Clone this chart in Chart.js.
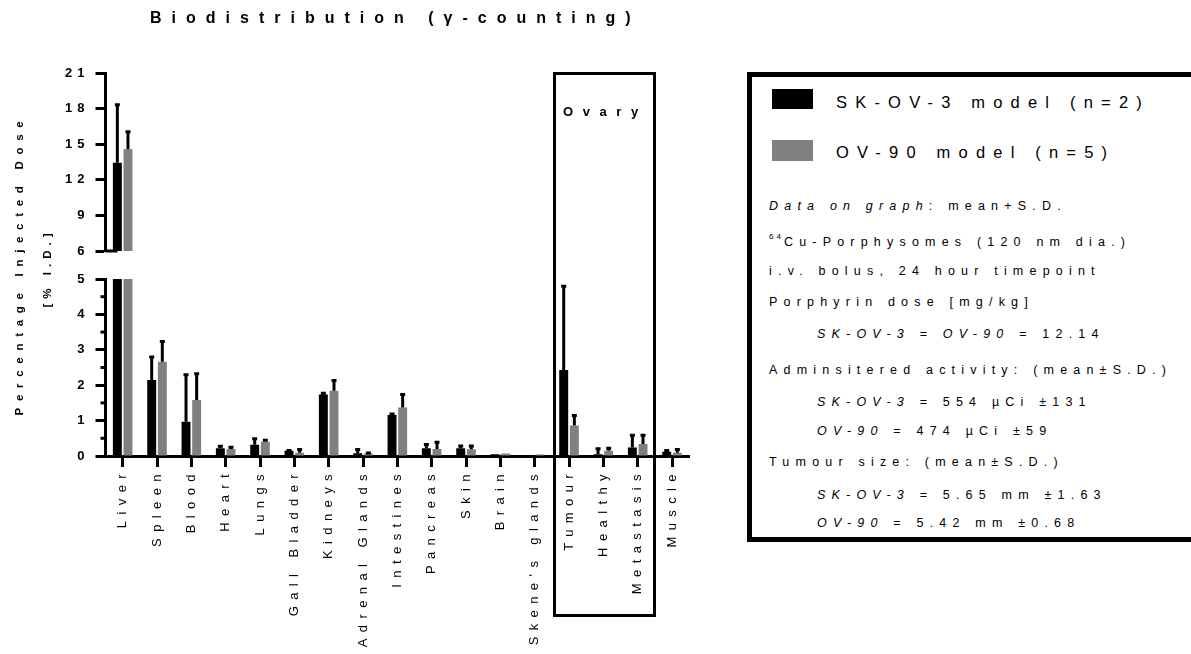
<!DOCTYPE html>
<html>
<head>
<meta charset="utf-8">
<script src="https://cdn.jsdelivr.net/npm/chart.js@4.4.1/dist/chart.umd.min.js"></script>
<style>
  html, body { margin: 0; padding: 0; background: #fff; }
  #page { position: relative; width: 1191px; height: 654px; overflow: hidden; background: #fff;
          font-family: "Liberation Sans", Arial, sans-serif; color: #000; }
  canvas { position: absolute; left: 0; top: 0; }
  .t { position: absolute; white-space: nowrap; }
  #title { left: 150px; top: 8px; font-weight: bold; font-size: 16px; letter-spacing: 10px; line-height: 20px; }
  .ytitle { position: absolute; white-space: nowrap; font-weight: bold; font-size: 11.5px;
            transform: translate(-50%, -50%) rotate(-90deg); line-height: 14px; }
  #ovary { position: absolute; left: 553px; top: 72px; width: 103px; height: 545px;
           border: 3px solid #000; box-sizing: border-box; }
  #ovary span { position: absolute; left: 7px; top: 29px; font-weight: bold; font-size: 13px;
                letter-spacing: 9.6px; line-height: 16px; }
  #legend { position: absolute; left: 747px; top: 72px; width: 449px; height: 470px;
            border: 5px solid #000; box-sizing: border-box; background: #fff; }
  .sw { position: absolute; width: 41px; height: 20px; }
  .lg { position: absolute; white-space: nowrap; font-size: 16.5px; letter-spacing: 8.2px; line-height: 20px; }
  .info { position: absolute; white-space: nowrap; font-size: 12.5px; letter-spacing: 6.2px; line-height: 16px; }
  sup { font-size: 8px; letter-spacing: 3px; vertical-align: 7px; line-height: 0; }
</style>
</head>
<body>
<div id="page">
  <canvas id="upper" width="1191" height="654"></canvas>
  <canvas id="lower" width="1191" height="654"></canvas>

  <div id="title" class="t">Biodistribution (γ-counting)</div>
  <div class="ytitle" style="left:19px; top:265px; letter-spacing:6.7px;">Percentage Injected Dose</div>
  <div class="ytitle" style="left:47px; top:268px; letter-spacing:5px;">[% I.D.]</div>

  <div id="ovary"><span>Ovary</span></div>

  <div id="legend">
    <div class="sw" style="left:20px; top:12px; background:#000;"></div>
    <div class="lg" style="left:84px; top:15px;">SK-OV-3 model (n=2)</div>
    <div class="sw" style="left:20px; top:63px; height:21px; background:#808080;"></div>
    <div class="lg" style="left:84px; top:65px;">OV-90 model (n=5)</div>

    <div class="info" style="left:17px; top:121px;"><i>Data on graph</i>: mean+S.D.</div>
    <div class="info" style="left:17px; top:157px;"><sup>64</sup>Cu-Porphysomes (120 nm dia.)</div>
    <div class="info" style="left:17px; top:186px;">i.v. bolus, 24 hour timepoint</div>
    <div class="info" style="left:17px; top:217px;">Porphyrin dose [mg/kg]</div>
    <div class="info" style="left:65px; top:249px;"><i>SK-OV-3</i> = <i>OV-90</i> = 12.14</div>
    <div class="info" style="left:17px; top:285px;">Adminsitered activity: (mean±S.D.)</div>
    <div class="info" style="left:65px; top:317px;"><i>SK-OV-3</i> = 554 µCi ±131</div>
    <div class="info" style="left:65px; top:346px;"><i>OV-90</i> = 474 µCi ±59</div>
    <div class="info" style="left:17px; top:377px;">Tumour size: (mean±S.D.)</div>
    <div class="info" style="left:65px; top:410px;"><i>SK-OV-3</i> = 5.65 mm ±1.63</div>
    <div class="info" style="left:65px; top:438px;"><i>OV-90</i> = 5.42 mm ±0.68</div>
  </div>
</div>

<script>
// Tissues sampled (x categories)
const tissues = ['Liver', 'Spleen', 'Blood', 'Heart', 'Lungs', 'Gall Bladder', 'Kidneys',
  'Adrenal Glands', 'Intestines', 'Pancreas', 'Skin', 'Brain', "Skene's glands",
  'Tumour', 'Healthy', 'Metastasis', 'Muscle'];

// SK-OV-3 model (n=2): mean %I.D. and S.D.
const skov3Mean = [13.44, 2.15, 0.97, 0.22, 0.32, 0.15, 1.74, 0.08, 1.16, 0.22, 0.22, 0.05, 0.00, 2.43, 0.05, 0.24, 0.12];
const skov3SD   = [4.92, 0.66, 1.34, 0.07, 0.18, 0.02, 0.05, 0.12, 0.04, 0.12, 0.08, 0.00, 0.00, 2.38, 0.17, 0.36, 0.05];

// OV-90 model (n=5): mean %I.D. and S.D.
const ov90Mean = [14.57, 2.66, 1.58, 0.20, 0.40, 0.09, 1.84, 0.07, 1.37, 0.20, 0.19, 0.07, 0.04, 0.86, 0.15, 0.34, 0.09];
const ov90SD   = [1.53, 0.59, 0.76, 0.06, 0.06, 0.11, 0.31, 0.03, 0.38, 0.20, 0.11, 0.00, 0.00, 0.30, 0.08, 0.26, 0.11];

// Broken y axis: upper segment 6–21 (step 3), lower segment 0–5 (step 1)
const upperTicks = [6, 9, 12, 15, 18, 21];
const lowerTicks = [0, 1, 2, 3, 4, 5];
const lowerMinorTicks = [0.5, 1.5, 2.5, 3.5, 4.5];

const FONT = '"Liberation Sans", Arial, sans-serif';
const PAGE_W = 1191, PAGE_H = 654;
const AREA_LEFT = 105.5, AREA_RIGHT = 689.2;

function makeDatasets() {
  return [
    { label: 'SK-OV-3 model (n=2)', data: skov3Mean, sd: skov3SD, backgroundColor: '#000000',
      borderWidth: 0, clip: 0, categoryPercentage: 0.62, barPercentage: 0.84 },
    { label: 'OV-90 model (n=5)', data: ov90Mean, sd: ov90SD, backgroundColor: '#808080',
      borderWidth: 0, clip: 0, categoryPercentage: 0.62, barPercentage: 0.84 }
  ];
}

// Mean + S.D. whiskers above each bar
const errorBars = {
  id: 'errorBars',
  afterDatasetsDraw(chart) {
    const { ctx, chartArea: a, scales: { y } } = chart;
    ctx.save();
    ctx.beginPath();
    ctx.rect(a.left, a.top - 2, a.right - a.left, a.bottom - a.top + 2);
    ctx.clip();
    ctx.strokeStyle = '#000';
    ctx.lineWidth = 3;
    chart.data.datasets.forEach((ds, i) => {
      const meta = chart.getDatasetMeta(i);
      meta.data.forEach((bar, j) => {
        const sd = ds.sd[j];
        if (!sd) return;
        const y0 = y.getPixelForValue(ds.data[j]);
        const y1 = y.getPixelForValue(ds.data[j] + sd);
        ctx.beginPath();
        ctx.moveTo(bar.x, y0);
        ctx.lineTo(bar.x, y1);
        ctx.moveTo(bar.x - 2.5, y1 + 0.5);
        ctx.lineTo(bar.x + 2.5, y1 + 0.5);
        ctx.stroke();
      });
    });
    ctx.restore();
  }
};

// Letter-spaced tick labels
const spacedLabels = {
  id: 'spacedLabels',
  beforeDraw(chart, args, opts) {
    Object.keys(opts.spacing || {}).forEach(id => {
      const scale = chart.scales[id];
      if (!scale || scale._spacedWrapped) return;
      const orig = scale.drawLabels;
      const px = opts.spacing[id];
      scale.drawLabels = function (area) {
        this.ctx.letterSpacing = px;
        orig.call(this, area);
        this.ctx.letterSpacing = '0px';
      };
      scale._spacedWrapped = true;
    });
  }
};

// Axis decorations: minor ticks (lower) and stub at the break (upper)
const axisExtras = {
  id: 'axisExtras',
  afterDraw(chart, args, opts) {
    const { ctx, chartArea: a, scales: { y } } = chart;
    ctx.save();
    ctx.strokeStyle = '#000';
    ctx.lineWidth = 3;
    (opts.minor || []).forEach(v => {
      const py = y.getPixelForValue(v);
      ctx.beginPath();
      ctx.moveTo(a.left - 5, py);
      ctx.lineTo(a.left, py);
      ctx.stroke();
    });
    if (opts.stub) {
      ctx.beginPath();
      ctx.moveTo(a.left, a.bottom);
      ctx.lineTo(a.left + 12, a.bottom);
      ctx.stroke();
    }
    ctx.restore();
  }
};

function yScale(min, max, ticks) {
  return {
    type: 'linear', min: min, max: max,
    afterBuildTicks: s => { s.ticks = ticks.map(v => ({ value: v })); },
    afterFit: s => { s.width = AREA_LEFT; },
    border: { display: true, color: '#000', width: 3 },
    grid: { drawOnChartArea: false, drawTicks: true, tickLength: 10, tickColor: '#000', tickWidth: 3 },
    ticks: { color: '#000', padding: 6, font: { family: FONT, size: 13, weight: 'bold' } }
  };
}

const common = {
  responsive: false,
  animation: false,
  events: [],
  plugins: { legend: { display: false }, tooltip: { enabled: false }, title: { display: false } }
};

// Upper segment of the broken axis (only Liver reaches it)
new Chart(document.getElementById('upper'), {
  type: 'bar',
  data: { labels: tissues, datasets: makeDatasets() },
  options: Object.assign({}, common, {
    layout: { padding: { left: 0, top: 73, right: PAGE_W - AREA_RIGHT, bottom: PAGE_H - 251 } },
    scales: {
      x: { display: false, grid: { offset: false } },
      y: yScale(6, 21, upperTicks)
    },
    plugins: Object.assign({}, common.plugins, {
      spacedLabels: { spacing: { y: '5px' } },
      axisExtras: { stub: true }
    })
  }),
  plugins: [errorBars, spacedLabels, axisExtras]
});

// Lower segment with the tissue axis
new Chart(document.getElementById('lower'), {
  type: 'bar',
  data: { labels: tissues, datasets: makeDatasets() },
  options: Object.assign({}, common, {
    layout: { padding: { left: 0, top: 279, right: PAGE_W - AREA_RIGHT, bottom: 0 } },
    scales: {
      x: {
        type: 'category',
        afterFit: s => { s.height = PAGE_H - 456; },
        border: { display: true, color: '#000', width: 3 },
        grid: { offset: false, drawOnChartArea: false, drawTicks: true, tickLength: 11, tickColor: '#000', tickWidth: 3 },
        ticks: { color: '#000', autoSkip: false, minRotation: 90, maxRotation: 90, padding: 1,
                 font: { family: FONT, size: 13 } }
      },
      y: yScale(0, 5, lowerTicks)
    },
    plugins: Object.assign({}, common.plugins, {
      spacedLabels: { spacing: { y: '5px', x: '6.4px' } },
      axisExtras: { minor: lowerMinorTicks }
    })
  }),
  plugins: [errorBars, spacedLabels, axisExtras]
});
</script>
</body>
</html>
